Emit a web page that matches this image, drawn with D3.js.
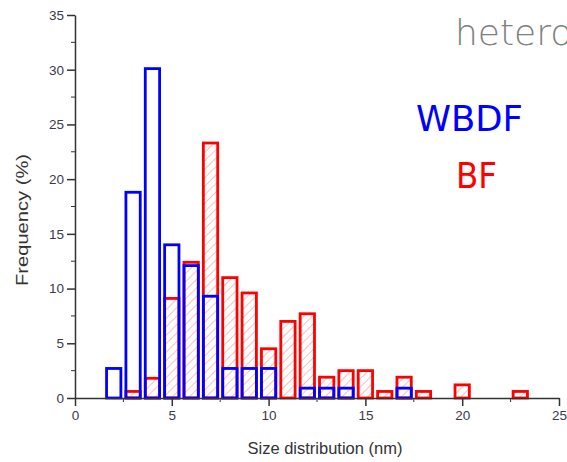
<!DOCTYPE html>
<html>
<head>
<meta charset="utf-8">
<script src="https://cdn.jsdelivr.net/npm/d3@7"></script>
<style>
  body { margin: 0; background: #fff; }
  svg { display: block; }
</style>
</head>
<body>
<script>
// bin centres (nm) and frequencies (%)
const sizes = [2, 3, 4, 5, 6, 7, 8, 9, 10, 11, 12, 13, 14, 15, 16, 17, 18, 19, 20, 21, 22, 23];
const wbdf = [2.7, 18.8, 30.1, 14.0, 12.1, 9.3, 2.7, 2.7, 2.7, 0, 0.9, 0.9, 0.9, 0, 0, 0.9, 0, 0, 0, 0, 0, 0];
const bf = [0, 0.6, 1.8, 9.1, 12.4, 23.3, 11.0, 9.6, 4.5, 7.0, 7.7, 1.9, 2.5, 2.5, 0.6, 1.9, 0.6, 0, 1.2, 0, 0, 0.6];
const xTicks = [0, 5, 10, 15, 20, 25];
const yTicks = [0, 5, 10, 15, 20, 25, 30, 35];

const width = 567,
  height = 462;
const margin = { top: 15, right: 8, bottom: 64, left: 75 };

const svg = d3
  .select("body")
  .append("svg")
  .attr("width", width)
  .attr("height", height)
  .attr("viewBox", [0, 0, width, height]);

const x = d3.scaleLinear().domain([0, 25]).range([margin.left, width - margin.right]);
const y = d3.scaleLinear().domain([0, 35]).range([height - margin.bottom, margin.top]);

// hatch for the BF bars
svg
  .append("defs")
  .append("pattern")
  .attr("id", "hatch")
  .attr("patternUnits", "userSpaceOnUse")
  .attr("width", 6)
  .attr("height", 6)
  .attr("patternTransform", "rotate(45)")
  .append("line")
  .attr("x1", 0)
  .attr("y1", 0)
  .attr("x2", 0)
  .attr("y2", 6)
  .attr("stroke", "#ff9a9a")
  .attr("stroke-width", 1.3);

const barW = 0.74; // nm
const bfData = sizes.map((s, i) => ({ s, v: bf[i] })).filter((d) => d.v > 0);
const wbData = sizes.map((s, i) => ({ s, v: wbdf[i] })).filter((d) => d.v > 0);

svg
  .append("g")
  .selectAll("rect")
  .data(bfData)
  .join("rect")
  .attr("x", (d) => x(d.s - barW / 2))
  .attr("y", (d) => y(d.v))
  .attr("width", x(barW) - x(0))
  .attr("height", (d) => y(0) - y(d.v))
  .attr("fill", "url(#hatch)")
  .attr("stroke", "#ff0000")
  .attr("stroke-width", 2.8);

svg
  .append("g")
  .selectAll("rect")
  .data(wbData)
  .join("rect")
  .attr("x", (d) => x(d.s - barW / 2))
  .attr("y", (d) => y(d.v))
  .attr("width", x(barW) - x(0))
  .attr("height", (d) => y(0) - y(d.v))
  .attr("fill", "none")
  .attr("stroke", "#0000ff")
  .attr("stroke-width", 2.8);

// axes
const axisColor = "#333";
const xAxis = svg
  .append("g")
  .attr("transform", `translate(0,${y(0)})`)
  .call(d3.axisBottom(x).tickValues(xTicks).tickSize(8).tickSizeOuter(0).tickPadding(4));
xAxis
  .selectAll(".minor")
  .data(d3.range(2.5, 25, 5))
  .join("line")
  .attr("class", "minor")
  .attr("x1", (d) => x(d))
  .attr("x2", (d) => x(d))
  .attr("y1", 0)
  .attr("y2", 4)
  .attr("stroke", axisColor);

const yAxis = svg
  .append("g")
  .attr("transform", `translate(${margin.left},0)`)
  .call(d3.axisLeft(y).tickValues(yTicks).tickSize(8).tickSizeOuter(0).tickPadding(3));
yAxis
  .selectAll(".minor")
  .data(d3.range(2.5, 35, 5))
  .join("line")
  .attr("class", "minor")
  .attr("y1", (d) => y(d))
  .attr("y2", (d) => y(d))
  .attr("x1", 0)
  .attr("x2", -4)
  .attr("stroke", axisColor);

svg.selectAll(".domain, .tick line").attr("stroke", axisColor).attr("stroke-width", 1.5);
svg
  .selectAll(".tick text")
  .attr("fill", "#3a3a4a")
  .style("font-family", "'Liberation Sans', Arial, sans-serif")
  .style("font-size", "13.5px");

// axis titles
svg
  .append("text")
  .attr("x", 325)
  .attr("y", 454)
  .attr("text-anchor", "middle")
  .attr("fill", "#333")
  .style("font-family", "'Liberation Sans', Arial, sans-serif")
  .style("font-size", "16.5px")
  .text("Size distribution (nm)");

svg
  .append("text")
  .attr("transform", "translate(28,220) rotate(-90)")
  .attr("text-anchor", "middle")
  .attr("fill", "#333")
  .attr("textLength", 132)
  .attr("lengthAdjust", "spacingAndGlyphs")
  .style("font-family", "'Liberation Sans', Arial, sans-serif")
  .style("font-size", "16px")
  .text("Frequency (%)");

// legend labels
svg
  .append("text")
  .attr("x", 416)
  .attr("y", 131)
  .attr("fill", "#0000ff")
  .attr("textLength", 107)
  .attr("lengthAdjust", "spacingAndGlyphs")
  .style("font-family", "'Comic Sans MS', 'DejaVu Sans', sans-serif")
  .style("font-size", "36px")
  .text("WBDF");

svg
  .append("text")
  .attr("x", 456)
  .attr("y", 188)
  .attr("fill", "#ff0000")
  .attr("textLength", 41)
  .attr("lengthAdjust", "spacingAndGlyphs")
  .style("font-family", "'Comic Sans MS', 'DejaVu Sans', sans-serif")
  .style("font-size", "36px")
  .text("BF");

// slide title, cut at the right edge
svg
  .append("text")
  .attr("x", 455)
  .attr("y", 45)
  .attr("fill", "#808080")
  .style("font-family", "'DejaVu Sans', sans-serif")
  .style("font-size", "36px")
  .style("font-weight", 300)
  .text("hetero");
</script>
</body>
</html>
